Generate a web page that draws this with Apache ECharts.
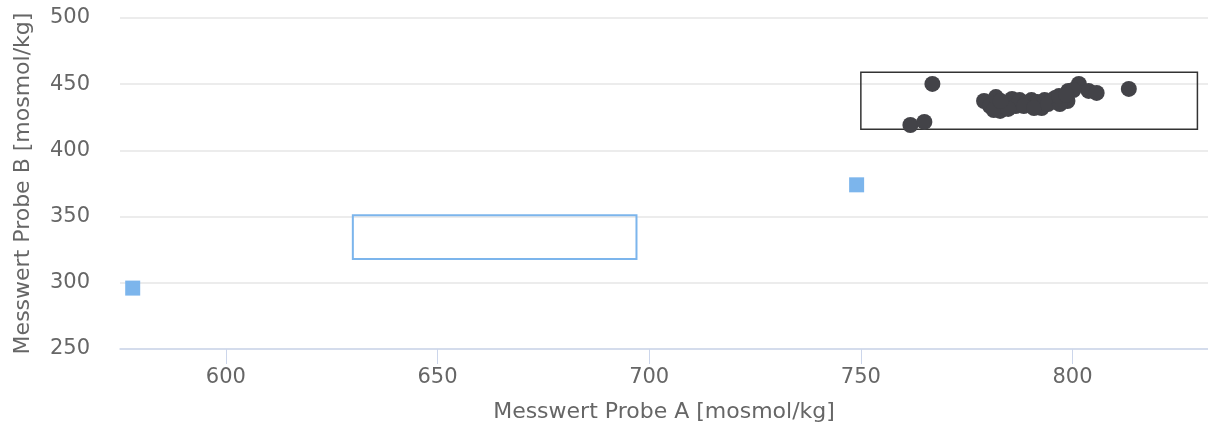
<!DOCTYPE html>
<html>
<head>
<meta charset="utf-8">
<script src="https://cdn.jsdelivr.net/npm/echarts@6/dist/echarts.min.js"></script>
<style>
  html, body { margin: 0; padding: 0; background: #fff; }
  #main { width: 1208px; height: 423px; }
</style>
</head>
<body>
<div id="main"></div>
<script>
// Probe A (x) / Probe B (y), mosmol/kg
var seriesAx = [578, 749]
var seriesAy = [296, 374]
var seriesBx = [761.7, 765, 766.9, 779.1, 780.5, 781.9, 782.9, 783.9, 785.7, 786.6, 787.5, 789,
  790.3, 791.7, 792.7, 793.4, 795, 795.9, 797.8, 798.8, 799, 801.5, 803.8, 805.7, 813.3,
  781.4, 784.8, 788.5, 790.9, 794.2, 797, 796.8, 800.2, 798.5, 783]
var seriesBy = [419.2, 421.5, 450.2, 437.3, 433.5, 440.3, 429.8, 435, 438.8, 433.5, 438, 435.8,
  438, 436.6, 432, 438, 437.3, 439.6, 438, 437.3, 444.9, 450.2, 444.9, 443.4, 446.4,
  430.5, 431.3, 433.5, 432, 435, 435, 441, 445.6, 441.9, 437.3]
// boxes: [xMin, yMin, xMax, yMax]
var boxA = [630, 318, 697, 351]
var boxB = [750, 416, 829.5, 459]
var xTicks = [600, 650, 700, 750, 800]
var yTicks = [250, 300, 350, 400, 450, 500]

function pairs (xs, ys) {
  var out = []
  for (var i = 0; i < xs.length; i++) out.push([xs[i], ys[i]])
  return out
}
function box (b) {
  return [[{ coord: [b[0], b[1]] }, { coord: [b[2], b[3]] }]]
}

var chart = echarts.init(document.getElementById('main'))
var font = 'DejaVu Sans'
var option = {
  animation: false,
  backgroundColor: '#ffffff',
  grid: {
    left: 120,
    right: 0,
    top: 18,
    bottom: 74,
    containLabel: false,
    outerBoundsMode: 'none'
  },
  xAxis: {
    type: 'value',
    min: 575,
    max: 832,
    name: 'Messwert Probe A [mosmol/kg]',
    nameLocation: 'middle',
    nameGap: 52,
    nameTextStyle: { color: '#666666', fontSize: 22, fontFamily: font },
    axisLine: { show: true, lineStyle: { color: '#ccd6eb', width: 1.5 } },
    axisTick: { show: true, length: 15, customValues: xTicks, lineStyle: { color: '#ccd6eb' } },
    axisLabel: { customValues: xTicks, margin: 18, color: '#666666', fontSize: 21, fontFamily: font },
    splitLine: { show: false }
  },
  yAxis: {
    type: 'value',
    min: yTicks[0],
    max: yTicks[yTicks.length - 1],
    interval: 50,
    name: 'Messwert Probe B [mosmol/kg]',
    nameLocation: 'middle',
    nameGap: 86,
    nameTextStyle: { color: '#666666', fontSize: 22, fontFamily: font },
    axisLine: { show: false },
    axisTick: { show: false },
    axisLabel: { margin: 30, color: '#666666', fontSize: 21, fontFamily: font },
    splitLine: { show: true, lineStyle: { color: '#e6e6e6', width: 1.5 } }
  },
  series: [
    {
      type: 'scatter',
      symbol: 'rect',
      symbolSize: 15,
      itemStyle: { color: '#7cb5ec', opacity: 1 },
      data: pairs(seriesAx, seriesAy),
      markArea: {
        silent: true,
        itemStyle: { color: 'rgba(0,0,0,0)', borderColor: '#7cb5ec', borderWidth: 2 },
        data: box(boxA)
      }
    },
    {
      type: 'scatter',
      symbol: 'circle',
      symbolSize: 16,
      itemStyle: { color: '#434348', opacity: 1 },
      data: pairs(seriesBx, seriesBy),
      markArea: {
        silent: true,
        itemStyle: { color: 'rgba(0,0,0,0)', borderColor: '#333333', borderWidth: 1.5 },
        data: box(boxB)
      }
    }
  ]
}
option && chart.setOption(option)
</script>
</body>
</html>
